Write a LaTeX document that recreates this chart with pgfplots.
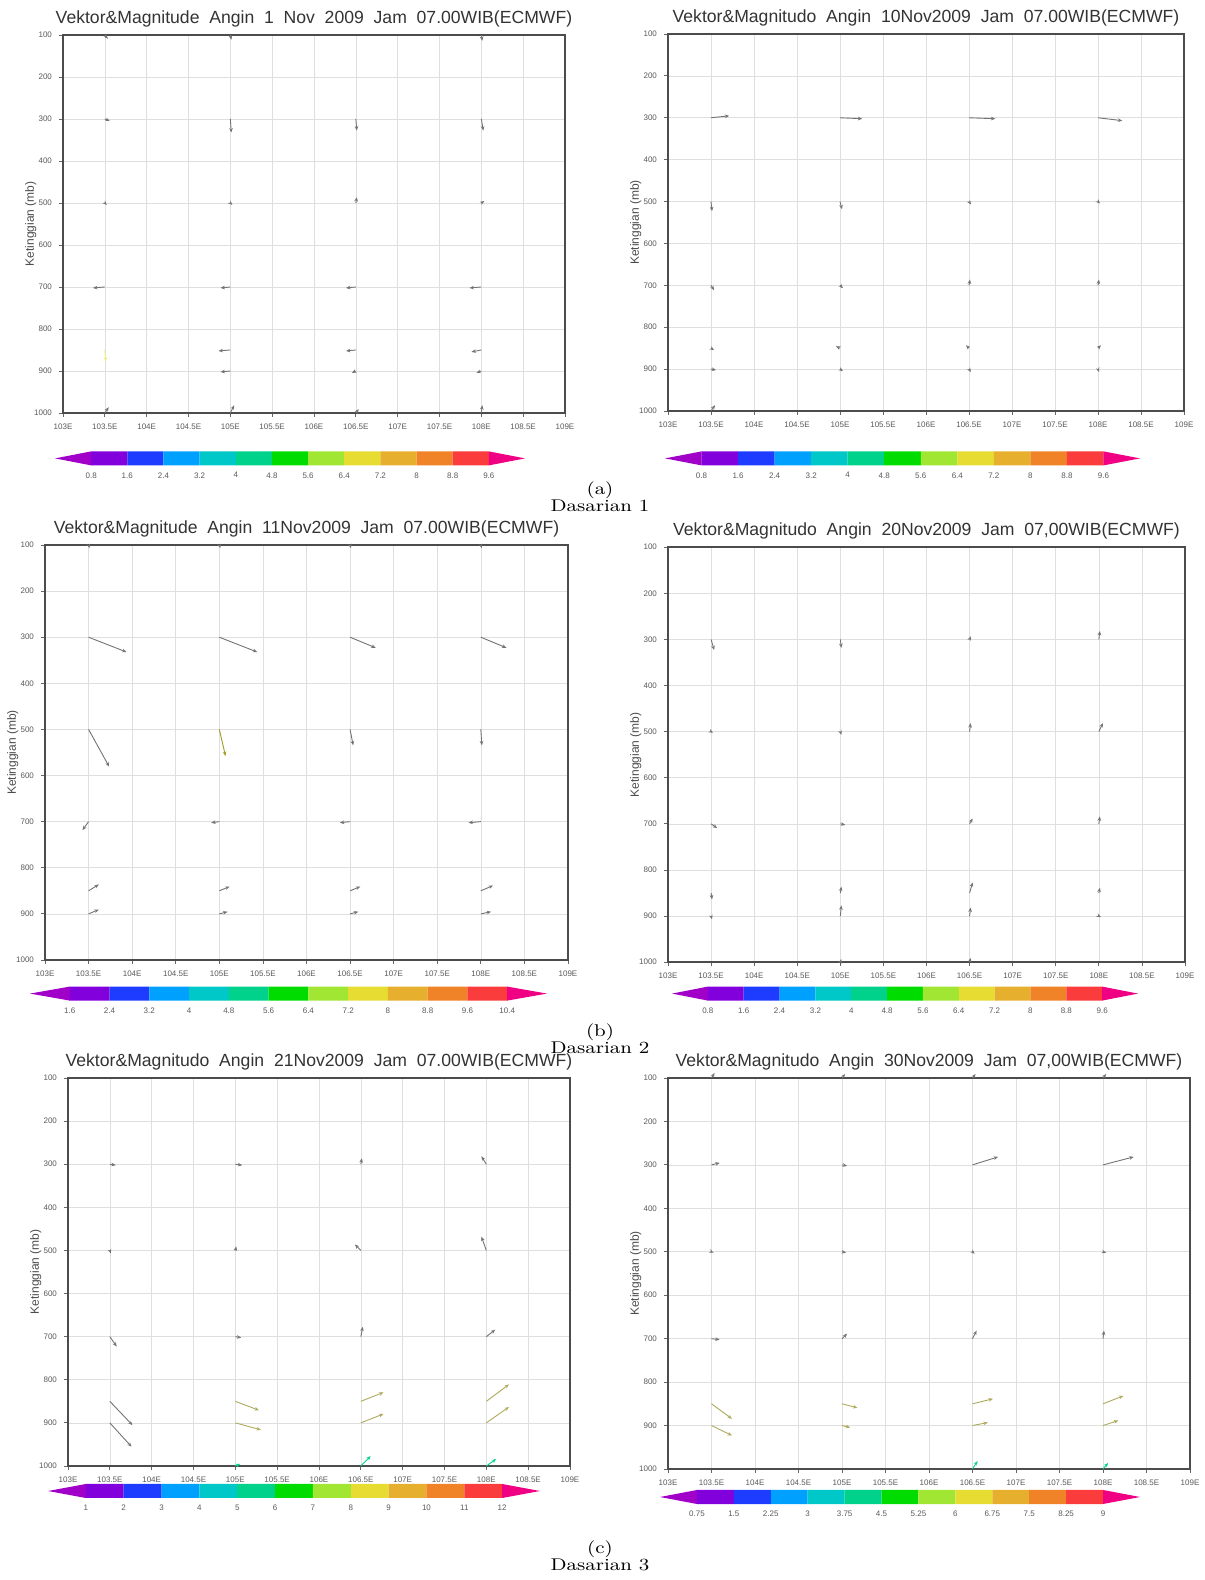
\documentclass[border=0pt]{standalone}
\usepackage{graphicx}
\usepackage{pgfplots}
\pgfplotsset{compat=1.18}
\usepackage{fontspec}
\newfontfamily\sansf{Liberation Sans}
\usetikzlibrary{arrows.meta}
\definecolor{c0}{RGB}{160,0,200}
\definecolor{c1}{RGB}{130,0,220}
\definecolor{c2}{RGB}{30,60,255}
\definecolor{c3}{RGB}{0,160,255}
\definecolor{c4}{RGB}{0,200,200}
\definecolor{c5}{RGB}{0,210,140}
\definecolor{c6}{RGB}{0,220,0}
\definecolor{c7}{RGB}{160,230,50}
\definecolor{c8}{RGB}{230,220,50}
\definecolor{c9}{RGB}{230,175,45}
\definecolor{c10}{RGB}{240,130,40}
\definecolor{c11}{RGB}{250,60,60}
\definecolor{c12}{RGB}{240,0,130}
\pgfplotsset{
 windax/.style={scale only axis, anchor=north west, clip=false,
  xmin=103, xmax=109, ymin=100, ymax=1000, y dir=reverse,
  xtick={103,103.5,104,104.5,105,105.5,106,106.5,107,107.5,108,108.5,109},
  xticklabels={103E,103.5E,104E,104.5E,105E,105.5E,106E,106.5E,107E,107.5E,108E,108.5E,109E},
  ytick={100,200,300,400,500,600,700,800,900,1000},
  grid=major, grid style={gray!25, line width=0.3pt},
  axis line style={black!70, line width=0.9pt},
  tick pos=left, tick align=outside, major tick length=2pt,
  tick style={black!60, line width=0.4pt},
  tick label style={font=\sansf\fontsize{4}{4}\selectfont, text=black!65},
  /pgf/number format/assume math mode=true, /pgf/number format/1000 sep={},
  ylabel={Ketinggian (mb)}, ylabel shift=-8pt,
  ylabel style={font=\sansf\fontsize{6}{6}\selectfont, text=black!70},
  every axis title shift=0pt,
  title style={at={(0.5,1)}, anchor=south, yshift=0.5pt,
   font=\sansf\fontsize{8.8}{9}\selectfont, text=black!80}},
 vec/.style={-{Stealth[length=2.2pt,width=1.8pt]}, line width=0.45pt, black!55,
  quiver={u=\thisrow{dx}/85, v=\thisrow{dy}*2.3}},
}
\newcommand{\cbar}[4]{%
\begin{axis}[at={(#1,#2)}, anchor=north west, scale only axis, width=#3, height=7pt,
 xmin=0, xmax=13, ymin=0, ymax=1, axis line style={draw=none}, ytick=\empty,
 xtick={1,2,3,4,5,6,7,8,9,10,11,12}, xticklabels={#4}, major tick length=0pt,
 xticklabel style={font=\sansf\fontsize{4}{4}\selectfont, text=black!65}, clip=false]
\addplot[fill=c0,draw=none] coordinates {(0,0.5)(1,1)(1,0)(0,0.5)};
\addplot[fill=c1,draw=none] coordinates {(1,0)(2,0)(2,1)(1,1)(1,0)};
\addplot[fill=c2,draw=none] coordinates {(2,0)(3,0)(3,1)(2,1)(2,0)};
\addplot[fill=c3,draw=none] coordinates {(3,0)(4,0)(4,1)(3,1)(3,0)};
\addplot[fill=c4,draw=none] coordinates {(4,0)(5,0)(5,1)(4,1)(4,0)};
\addplot[fill=c5,draw=none] coordinates {(5,0)(6,0)(6,1)(5,1)(5,0)};
\addplot[fill=c6,draw=none] coordinates {(6,0)(7,0)(7,1)(6,1)(6,0)};
\addplot[fill=c7,draw=none] coordinates {(7,0)(8,0)(8,1)(7,1)(7,0)};
\addplot[fill=c8,draw=none] coordinates {(8,0)(9,0)(9,1)(8,1)(8,0)};
\addplot[fill=c9,draw=none] coordinates {(9,0)(10,0)(10,1)(9,1)(9,0)};
\addplot[fill=c10,draw=none] coordinates {(10,0)(11,0)(11,1)(10,1)(10,0)};
\addplot[fill=c11,draw=none] coordinates {(11,0)(12,0)(12,1)(11,1)(11,0)};
\addplot[fill=c12,draw=none] coordinates {(12,0)(12,1)(13,0.5)(12,0)};
\end{axis}}
\newcommand{\capt}[4]{\node[font={\fontsize{8.5}{8.3}\selectfont}, align=center, inner sep=0pt] at (#1,#2) {\scalebox{1.2}[1]{#3}\\\scalebox{1.2}[1]{#4}};}
\begin{document}
\begin{tikzpicture}
\useasboundingbox (0,0) rectangle (602.5pt,790pt);
% ---------- (a) left
\begin{axis}[windax, at={(31.5pt,772.5pt)}, width=251pt, height=189pt,
 title={Vektor\&Magnitude\ \ Angin\ \ 1\ \ Nov\ \ 2009\ \ Jam\ \ 07.00WIB(ECMWF)}]
\addplot[vec] table {
x y dx dy
103.5 100 3 4
105 100 1 5
108 100 1 6
103.5 300 5 2
105 300 1 14
106.5 300 1 12
108 300 2 12
103.5 500 2 2
105 500 2 2
106.5 500 1 -6
108 500 3 -2
103.5 700 -12 1
105 700 -10 1
106.5 700 -10 1
108 700 -12 1
105 850 -12 1
106.5 850 -10 1
108 850 -10 2
105 900 -10 1
106.5 900 -4 2
108 900 -5 2
103.5 1000 4 -6
105 1000 4 -8
106.5 1000 3 -4
108 1000 1 -8
};
\addplot[vec, c8!60] table {
x y dx dy
103.5 850 1 12
};
\end{axis}
\cbar{27.5pt}{564.3pt}{235pt}{0.8,1.6,2.4,3.2,4,4.8,5.6,6.4,7.2,8,8.8,9.6}
% ---------- (a) right
\begin{axis}[windax, at={(334pt,773pt)}, width=258pt, height=188.5pt,
 title={Vektor\&Magnitudo\ \ Angin\ \ 10Nov2009\ \ Jam\ \ 07.00WIB(ECMWF)}]
\addplot[vec] table {
x y dx dy
103.5 300 18 -2
105 300 22 1
106.5 300 26 1
108 300 24 3
103.5 500 1 10
105 500 2 8
106.5 500 2 3
108 500 2 2
103.5 700 3 5
105 700 3 3
106.5 700 1 -6
108 700 1 -6
103.5 850 3 2
105 850 -4 -2
106.5 850 -3 -3
108 850 3 -3
103.5 900 5 1
105 900 3 2
106.5 900 2 3
108 900 1 3
103.5 1000 4 -6
};
\end{axis}
\cbar{332.5pt}{564.3pt}{237.5pt}{0.8,1.6,2.4,3.2,4,4.8,5.6,6.4,7.2,8,8.8,9.6}
\capt{300pt}{541.5pt}{(a)}{Dasarian 1}
% ---------- (b) left
\begin{axis}[windax, at={(22.5pt,517.5pt)}, width=261.5pt, height=207.5pt,
 title={Vektor\&Magnitude\ \ Angin\ \ 11Nov2009\ \ Jam\ \ 07.00WIB(ECMWF)}]
\addplot[vec] table {
x y dx dy
103.5 100 1 3
105 100 1 3
106.5 100 1 3
108 100 1 3
103.5 300 37 14
105 300 37 14
106.5 300 25 10
108 300 25 10
103.5 500 20 35
106.5 500 3 15
108 500 1 15
103.5 700 -6 8
105 700 -8 1
106.5 700 -10 1
108 700 -12 1
103.5 850 10 -6
105 850 10 -4
106.5 850 10 -4
108 850 12 -5
103.5 900 10 -4
105 900 8 -2
106.5 900 8 -2
108 900 10 -2
};
\addplot[vec, c8!70!black] table {
x y dx dy
105 500 6 25
};
\end{axis}
\cbar{15pt}{296.7pt}{258.5pt}{1.6,2.4,3.2,4,4.8,5.6,6.4,7.2,8,8.8,9.6,10.4}
% ---------- (b) right
\begin{axis}[windax, at={(334pt,516.4pt)}, width=258.5pt, height=207.5pt,
 title={Vektor\&Magnitudo\ \ Angin\ \ 20Nov2009\ \ Jam\ \ 07,00WIB(ECMWF)}]
\addplot[vec] table {
x y dx dy
103.5 300 3 10
105 300 1 8
106.5 300 1 -3
108 300 1 -8
103.5 500 2 1
105 500 1 3
106.5 500 1 -8
108 500 4 -8
103.5 700 6 4
105 700 5 1
106.5 700 3 -5
108 700 1 -7
103.5 850 1 6
105 850 1 -6
106.5 850 3 -10
108 850 1 -5
103.5 900 1 3
105 900 1 -10
106.5 900 1 -8
108 900 2 1
105 1000 1 -3
106.5 1000 1 -4
};
\end{axis}
\cbar{336pt}{296.7pt}{233pt}{0.8,1.6,2.4,3.2,4,4.8,5.6,6.4,7.2,8,8.8,9.6}
\capt{300pt}{270.5pt}{(b)}{Dasarian 2}
% ---------- (c) left
\begin{axis}[windax, at={(34pt,251pt)}, width=251pt, height=194pt,
 title={Vektor\&Magnitudo\ \ Angin\ \ 21Nov2009\ \ Jam\ \ 07.00WIB(ECMWF)}]
\addplot[vec] table {
x y dx dy
103.5 300 6 1
105 300 7 1
106.5 300 1 -6
108 300 -5 -8
103.5 500 1 3
105 500 1 -4
106.5 500 -6 -6
108 500 -5 -14
103.5 700 7 10
105 700 6 1
106.5 700 2 -10
108 700 9 -7
103.5 850 23 24
103.5 900 22 24
};
\addplot[vec, c8!45!gray] table {
x y dx dy
105 850 24 9
106.5 850 23 -9
108 850 23 -17
105 900 26 7
106.5 900 23 -9
108 900 23 -16
};
\addplot[vec, c5] table {
x y dx dy
105 1000 5 -2
106.5 1000 10 -10
108 1000 10 -7
};
\end{axis}
\cbar{24pt}{48pt}{246pt}{1,2,3,4,5,6,7,8,9,10,11,12}
% ---------- (c) right
\begin{axis}[windax, at={(334pt,251pt)}, width=261pt, height=195.5pt,
 title={Vektor\&Magnitudo\ \ Angin\ \ 30Nov2009\ \ Jam\ \ 07,00WIB(ECMWF)}]
\addplot[vec] table {
x y dx dy
103.5 100 3 -5
105 100 3 -4
106.5 100 3 -4
108 100 3 -4
103.5 300 8 -2
105 300 5 1
106.5 300 25 -8
108 300 30 -8
103.5 500 2 1
105 500 4 1
106.5 500 2 2
108 500 3 1
103.5 700 8 1
105 700 5 -5
106.5 700 4 -8
108 700 1 -8
};
\addplot[vec, c8!45!gray] table {
x y dx dy
103.5 850 20 15
105 850 15 4
106.5 850 20 -5
108 850 20 -8
103.5 900 20 10
105 900 8 2
106.5 900 15 -3
108 900 15 -5
};
\addplot[vec, c5] table {
x y dx dy
106.5 1000 5 -8
108 1000 5 -6
};
\end{axis}
\cbar{330pt}{45pt}{240pt}{0.75,1.5,2.25,3,3.75,4.5,5.25,6,6.75,7.5,8.25,9}
\capt{300pt}{12pt}{(c)}{Dasarian 3}
\end{tikzpicture}
\end{document}
